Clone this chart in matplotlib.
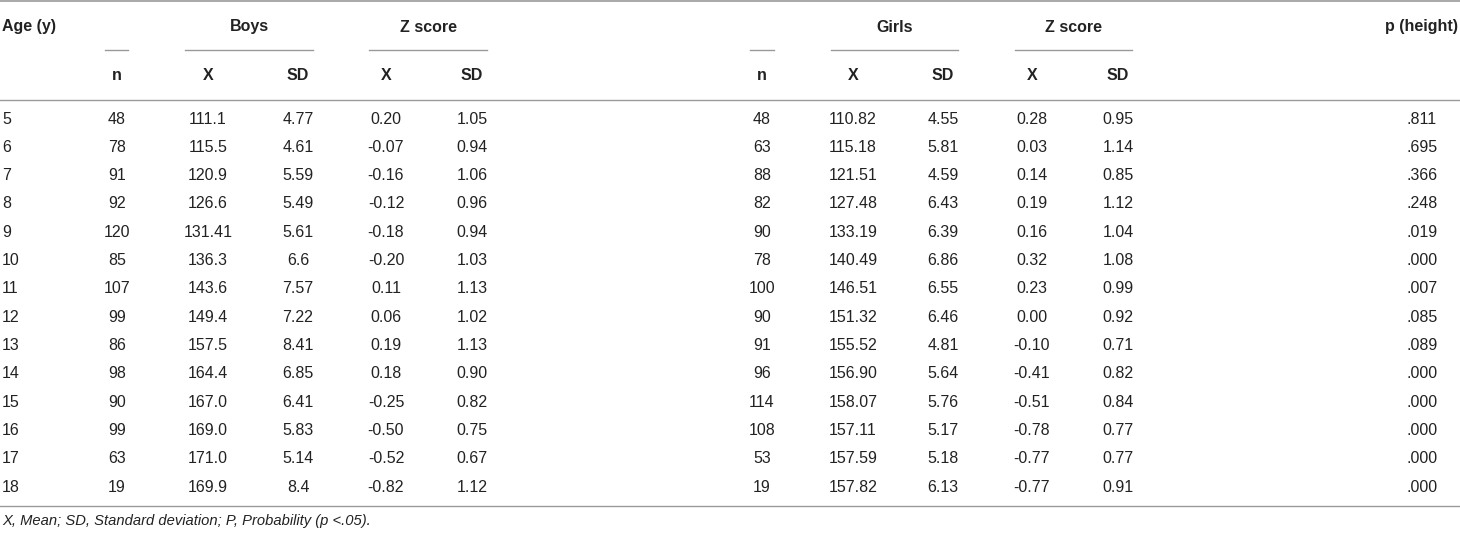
import matplotlib
matplotlib.use("Agg")
import matplotlib.pyplot as plt
from matplotlib import font_manager

ages = ["5", "6", "7", "8", "9", "10", "11", "12", "13", "14", "15", "16", "17", "18"]
boys_n = ["48", "78", "91", "92", "120", "85", "107", "99", "86", "98", "90", "99", "63", "19"]
boys_x = ["111.1", "115.5", "120.9", "126.6", "131.41", "136.3", "143.6", "149.4", "157.5", "164.4", "167.0", "169.0", "171.0", "169.9"]
boys_sd = ["4.77", "4.61", "5.59", "5.49", "5.61", "6.6", "7.57", "7.22", "8.41", "6.85", "6.41", "5.83", "5.14", "8.4"]
boys_zx = ["0.20", "-0.07", "-0.16", "-0.12", "-0.18", "-0.20", "0.11", "0.06", "0.19", "0.18", "-0.25", "-0.50", "-0.52", "-0.82"]
boys_zsd = ["1.05", "0.94", "1.06", "0.96", "0.94", "1.03", "1.13", "1.02", "1.13", "0.90", "0.82", "0.75", "0.67", "1.12"]
girls_n = ["48", "63", "88", "82", "90", "78", "100", "90", "91", "96", "114", "108", "53", "19"]
girls_x = ["110.82", "115.18", "121.51", "127.48", "133.19", "140.49", "146.51", "151.32", "155.52", "156.90", "158.07", "157.11", "157.59", "157.82"]
girls_sd = ["4.55", "5.81", "4.59", "6.43", "6.39", "6.86", "6.55", "6.46", "4.81", "5.64", "5.76", "5.17", "5.18", "6.13"]
girls_zx = ["0.28", "0.03", "0.14", "0.19", "0.16", "0.32", "0.23", "0.00", "-0.10", "-0.41", "-0.51", "-0.78", "-0.77", "-0.77"]
girls_zsd = ["0.95", "1.14", "0.85", "1.12", "1.04", "1.08", "0.99", "0.92", "0.71", "0.82", "0.84", "0.77", "0.77", "0.91"]
p_height = [".811", ".695", ".366", ".248", ".019", ".000", ".007", ".085", ".089", ".000", ".000", ".000", ".000", ".000"]

group_headers = ["Boys", "Z score", "Girls", "Z score"]
sub_headers = ["n", "X", "SD", "X", "SD", "n", "X", "SD", "X", "SD"]
footnote = "X, Mean; SD, Standard deviation; P, Probability (p <.05)."

installed = {f.name for f in font_manager.fontManager.ttflist}
fam = "Liberation Sans Narrow" if "Liberation Sans Narrow" in installed else "Liberation Sans"
plt.rcParams['font.family'] = [fam, 'DejaVu Sans']

W, H = 1460, 537
fig = plt.figure(figsize=(W / 100, H / 100), dpi=100)
ax = fig.add_axes([0, 0, 1, 1])
ax.set_xlim(0, W)
ax.set_ylim(H, 0)
ax.axis('off')

fs = 11.5
txt = '#222222'
line_c = '#9a9a9a'

col_x = [117, 208, 298, 386, 472, 762, 853, 943, 1032, 1118]
cols = [boys_n, boys_x, boys_sd, boys_zx, boys_zsd, girls_n, girls_x, girls_sd, girls_zx, girls_zsd]

# rules
ax.plot([0, W], [1, 1], color=line_c, lw=1.2)
ax.plot([0, W], [100, 100], color=line_c, lw=1.0)
ax.plot([0, W], [506, 506], color=line_c, lw=1.0)
for x0, x1 in [(105, 128), (185, 313), (369, 487), (750, 774), (831, 958), (1015, 1132)]:
    ax.plot([x0, x1], [50, 50], color=line_c, lw=1.0)

# headers
ax.text(2, 27, "Age (y)", ha='left', va='center', fontsize=fs, fontweight='bold', color=txt)
for label, cx in zip(group_headers, [(185 + 313) / 2, (369 + 487) / 2, (831 + 958) / 2, (1015 + 1132) / 2]):
    ax.text(cx, 27, label, ha='center', va='center', fontsize=fs, fontweight='bold', color=txt)
ax.text(1458, 27, "p (height)", ha='right', va='center', fontsize=fs, fontweight='bold', color=txt)
for label, cx in zip(sub_headers, col_x):
    ax.text(cx, 76, label, ha='center', va='center', fontsize=fs, fontweight='bold', color=txt)

# data
y0, dy = 119, (487 - 119) / 13
for i, age in enumerate(ages):
    y = y0 + i * dy
    ax.text(2, y, age, ha='left', va='center', fontsize=fs, color=txt)
    for cx, col in zip(col_x, cols):
        ax.text(cx, y, col[i], ha='center', va='center', fontsize=fs, color=txt)
    ax.text(1422, y, p_height[i], ha='center', va='center', fontsize=fs, color=txt)

ax.text(2, 521, footnote, ha='left', va='center', fontsize=fs * 0.92, style='italic', color=txt)

fig.savefig("out.png", dpi=100)
